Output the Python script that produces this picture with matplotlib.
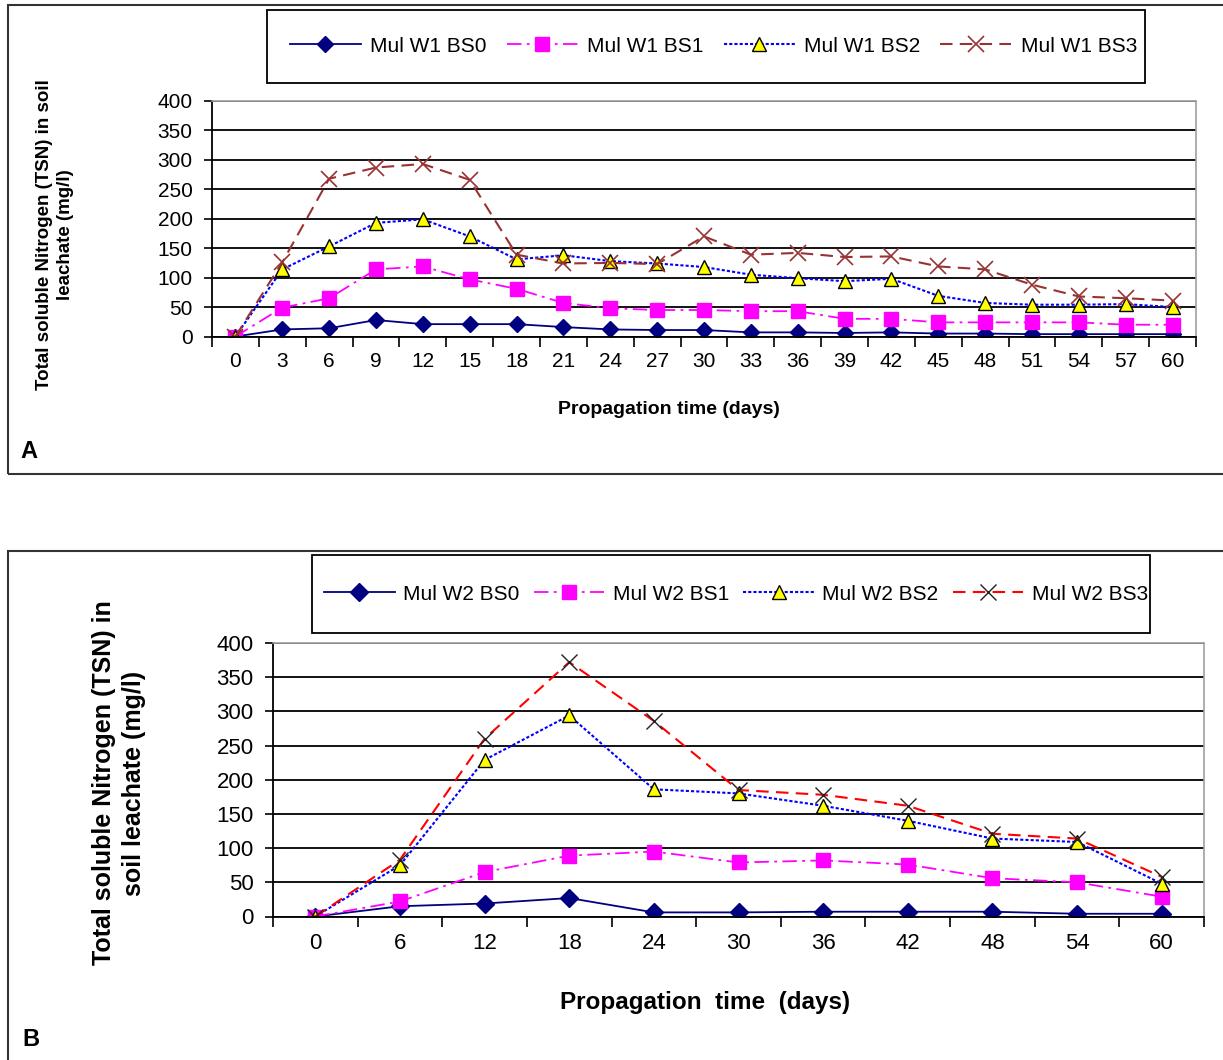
import numpy as np
import matplotlib
matplotlib.use('Agg')
import matplotlib.pyplot as plt
from matplotlib.patches import Rectangle

# Panel A data (every 3 days)
days_a = list(range(0, 61, 3))
w1_bs0 = [0, 12, 14, 28, 21, 21, 21, 16, 12, 11, 11, 7, 7, 6, 7, 5, 5, 4, 4, 4, 4]
w1_bs1 = [0, 49, 65, 114, 119, 97, 81, 57, 48, 45, 45, 43, 43, 30, 30, 24, 24, 24, 24, 20, 20]
w1_bs2 = [0, 114, 153, 193, 199, 170, 131, 138, 128, 124, 118, 105, 99, 94, 98, 69, 57, 54, 54, 55, 50]
w1_bs3 = [0, 126, 268, 287, 293, 266, 139, 124, 125, 123, 170, 139, 142, 135, 136, 119, 114, 88, 68, 65, 61]
labels_a = ['Mul W1 BS0', 'Mul W1 BS1', 'Mul W1 BS2', 'Mul W1 BS3']

# Panel B data (every 6 days)
days_b = list(range(0, 61, 6))
w2_bs0 = [0, 15, 19, 27, 6, 6, 7, 7, 7, 4, 4]
w2_bs1 = [0, 22, 65, 89, 95, 79, 82, 76, 56, 50, 29]
w2_bs2 = [0, 75, 229, 294, 186, 180, 162, 140, 114, 109, 48]
w2_bs3 = [0, 83, 260, 372, 286, 185, 178, 162, 121, 114, 58]
labels_b = ['Mul W2 BS0', 'Mul W2 BS1', 'Mul W2 BS2', 'Mul W2 BS3']

W, H = 1223, 1060
FONT = ['Liberation Sans', 'DejaVu Sans']


def px(l, t, r, b):
    """
    Pixel box -> figure fraction rect
    """
    return [l / W, 1 - b / H, (r - l) / W, (b - t) / H]


def style_axes(ax, n, tick_size, xpad):
    """
    Excel-like category axis + black grid
    """
    ax.set_xlim(-0.5, n - 0.5)
    ax.set_ylim(0, 400)
    ax.set_yticks(np.arange(0, 401, 50))
    ax.set_xticks(np.arange(n))
    ax.set_xticks(np.arange(-0.5, n, 1), minor=True)
    ax.tick_params(axis='x', which='major', length=0, pad=xpad)
    ax.tick_params(axis='x', which='minor', length=7, width=1.2, direction='out')
    ax.tick_params(axis='y', length=6, width=1.2, direction='out', pad=8)
    ax.yaxis.grid(True, color='black', lw=1.3)
    ax.set_axisbelow(True)
    for s in ['top', 'right']:
        ax.spines[s].set_color('#a0a0a0')
        ax.spines[s].set_linewidth(1.2)
    for s in ['left', 'bottom']:
        ax.spines[s].set_color('black')
        ax.spines[s].set_linewidth(1.3)
    for lab in ax.get_xticklabels() + ax.get_yticklabels():
        lab.set_family(FONT)
        lab.set_fontsize(tick_size)


def add_legend(ax, labels, box, inner, size, textpad):
    """
    Boxed one-row legend: frame drawn by hand, entries spread over inner box
    """
    l, t, r, b = box
    fig.patches.append(Rectangle((l / W, 1 - b / H), (r - l) / W, (b - t) / H, transform=fig.transFigure,
                                 fill=False, ec='black', lw=1.3, zorder=5))
    ax.legend(labels, loc='center left', bbox_to_anchor=px(*inner), bbox_transform=fig.transFigure,
              ncol=4, mode='expand', frameon=False, borderpad=0, handlelength=3.4,
              handletextpad=textpad, borderaxespad=0, prop={'family': FONT, 'size': size})


fig = plt.figure(figsize=(W / 100, H / 100), dpi=100)

# Outer frames
fig.patches.append(Rectangle((8 / W, 1 - 474 / H), 1.2, 469 / H, transform=fig.transFigure,
                             fill=False, ec='#333333', lw=1.5))
fig.patches.append(Rectangle((8 / W, -0.1), 1.2, 0.1 + 1 - 551 / H, transform=fig.transFigure,
                             fill=False, ec='#333333', lw=1.5))

# ---- Panel A ----
axA = fig.add_axes(px(212, 101, 1196, 336.5))
xa = np.arange(len(days_a))
axA.plot(xa, w1_bs0, color='#000080', lw=1.3, marker='D', ms=8, mfc='#000080', mec='#000080')
axA.plot(xa, w1_bs1, color='#ff00ff', lw=1.3, ls=(0, (8, 3, 1.5, 3)), marker='s', ms=10,
         mfc='#ff00ff', mec='#ff00ff')
axA.plot(xa, w1_bs2, color='#0000ff', lw=1.5, ls=(0, (1.5, 1)), marker='^', ms=10.5,
         mfc='#ffff00', mec='black', mew=1.0)
axA.plot(xa, w1_bs3, color='#993333', lw=1.5, ls=(0, (6, 3.5)), marker='x', ms=11,
         mec='#993333', mew=1.2)
axA.set_xticklabels([str(d) for d in days_a])
style_axes(axA, len(days_a), 15, 11)
add_legend(axA, labels_a, (267, 10, 1145, 83), (290, 30, 1137, 62), 15, 0.45)
fig.text(55 / W, 1 - 235 / H, 'Total soluble Nitrogen (TSN) in soil\nleachate (mg/l)', rotation=90,
         ha='center', va='center', multialignment='center', fontsize=13.5, fontweight='bold',
         family=FONT, linespacing=1.25)
fig.text(669 / W, 1 - 410 / H, 'Propagation time (days)', ha='center', va='center', fontsize=14,
         fontweight='bold', family=FONT)
fig.text(20 / W, 1 - 451 / H, 'A', ha='left', va='center', fontsize=17, fontweight='bold', family=FONT)

# ---- Panel B ----
axB = fig.add_axes(px(273, 643, 1204, 916.5))
xb = np.arange(len(days_b))
axB.plot(xb, w2_bs0, color='#000080', lw=1.3, marker='D', ms=9, mfc='#000080', mec='#000080')
axB.plot(xb, w2_bs1, color='#ff00ff', lw=1.3, ls=(0, (8, 3, 1.5, 3)), marker='s', ms=10,
         mfc='#ff00ff', mec='#ff00ff')
axB.plot(xb, w2_bs2, color='#0000ff', lw=1.5, ls=(0, (1.5, 1)), marker='^', ms=10,
         mfc='#ffff00', mec='black', mew=1.0)
axB.plot(xb, w2_bs3, color='#ff0000', lw=1.5, ls=(0, (6, 3.5)), marker='x', ms=12,
         mec='#222222', mew=1.0)
axB.set_xticklabels([str(d) for d in days_b])
style_axes(axB, len(days_b), 16, 12)
add_legend(axB, labels_b, (312, 555, 1150, 633), (324, 578, 1148, 610), 15, 0.4)
fig.text(119 / W, 1 - 783 / H, 'Total soluble Nitrogen (TSN) in\nsoil leachate (mg/l)', rotation=90,
         ha='center', va='center', multialignment='center', fontsize=18, fontweight='bold',
         family=FONT, linespacing=1.3)
fig.text(705 / W, 1 - 1003 / H, 'Propagation  time  (days)', ha='center', va='center', fontsize=17.5,
         fontweight='bold', family=FONT)
fig.text(22 / W, 1 - 1040 / H, 'B', ha='left', va='center', fontsize=17, fontweight='bold', family=FONT)

fig.savefig('out.png', dpi=100)
